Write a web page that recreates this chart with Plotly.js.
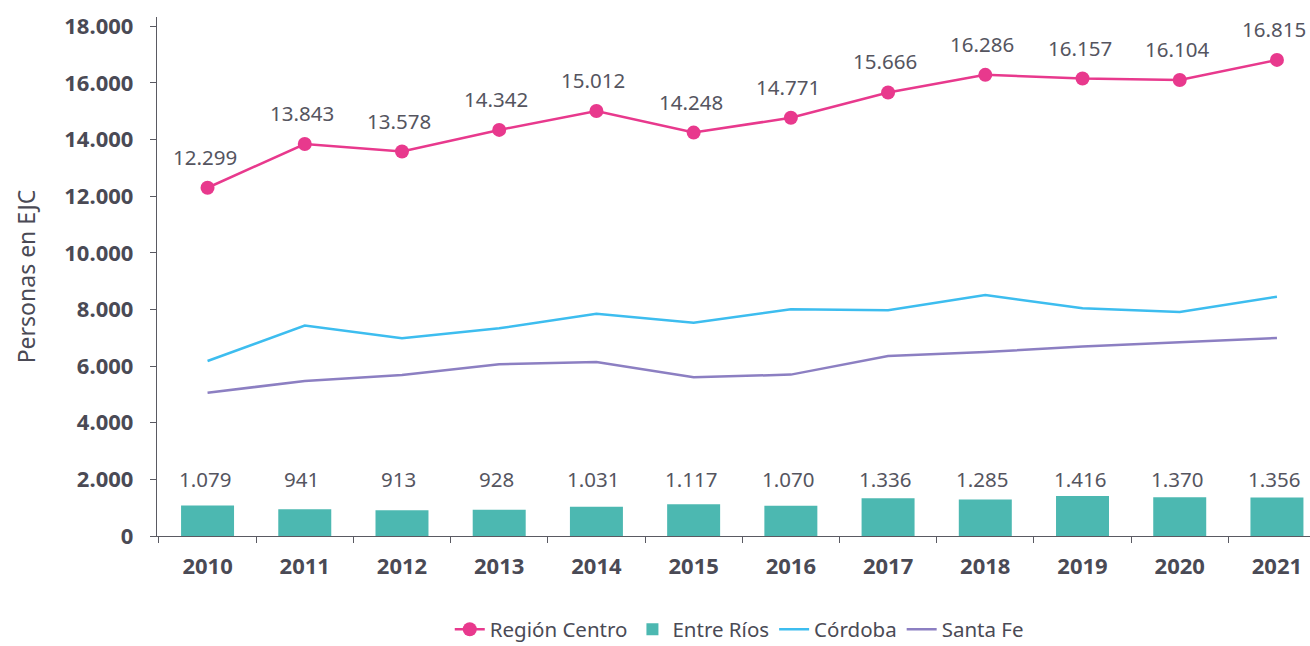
<!DOCTYPE html>
<html>
<head>
<meta charset="utf-8">
<script src="https://cdn.plot.ly/plotly-3.0.1.min.js"></script>
<style>html,body{margin:0;padding:0;background:#fff;}#chart{width:1310px;height:646px;}</style>
</head>
<body>
<div id="chart"></div>
<script>
var years = ['2010','2011','2012','2013','2014','2015','2016','2017','2018','2019','2020','2021'];
var regionCentro = [12299, 13843, 13578, 14342, 15012, 14248, 14771, 15666, 16286, 16157, 16104, 16815];
var entreRios = [1079, 941, 913, 928, 1031, 1117, 1070, 1336, 1285, 1416, 1370, 1356];
var cordoba = [6180, 7430, 6985, 7335, 7850, 7535, 8010, 7975, 8510, 8045, 7910, 8450];
var santaFe = [5060, 5475, 5685, 6065, 6145, 5605, 5700, 6355, 6500, 6690, 6840, 6995];
var barLabelLevel = 2000;

function fmt(n){ return String(n).replace(/\B(?=(\d{3})+(?!\d))/g, '.'); }

var textColor = '#4a4a55';
var labelColor = '#55555f';
var font = 'Noto Sans, Open Sans, sans-serif';

var traces = [
  {type:'bar', name:'Entre Ríos', x:years, y:entreRios, marker:{color:'#4cb8b1'}, legendrank:2},
  {type:'scatter', mode:'lines', name:'Córdoba', x:years, y:cordoba, line:{color:'#3dbdef', width:2.5}, legendrank:3},
  {type:'scatter', mode:'lines', name:'Santa Fe', x:years, y:santaFe, line:{color:'#8c7fc2', width:2.5}, legendrank:4},
  {type:'scatter', mode:'lines+markers', name:'Región Centro', x:years, y:regionCentro, line:{color:'#e8398d', width:2.5}, marker:{color:'#e8398d', size:14}, legendrank:1}
];

var annotations = [];
years.forEach(function(yr, i){
  annotations.push({xref:'x', yref:'y', x:i, y:regionCentro[i], text:fmt(regionCentro[i]), showarrow:false, yshift:31, xshift:-3, font:{family:font, size:20.5, color:labelColor}});
  annotations.push({xref:'x', yref:'y', x:i, y:barLabelLevel, text:fmt(entreRios[i]), showarrow:false, yshift:0, xshift:-3, font:{family:font, size:20.5, color:labelColor}});
});

var layout = {
  width:1310, height:646,
  margin:{l:157, r:0, t:17, b:110, autoexpand:false},
  paper_bgcolor:'#fff', plot_bgcolor:'#fff',
  separators:',.',
  font:{family:font, color:textColor},
  bargap:0.455,
  showlegend:true,
  legend:{orientation:'h', x:0.505, xanchor:'center', y:-0.18, yanchor:'middle', font:{size:20.5, color:textColor}, traceorder:'normal'},
  xaxis:{
    type:'category', range:[-0.52, 11.34], showgrid:false, showline:true, linecolor:'#5a5a62', linewidth:1.2,
    ticks:'outside', tickson:'boundaries', ticklen:6, tickcolor:'#5a5a62', ticklabelstandoff:10,
    tickfont:{family:font, size:22, color:textColor, weight:'bold'}, automargin:false
  },
  yaxis:{
    range:[0, 18330], tickvals:[0,2000,4000,6000,8000,10000,12000,14000,16000,18000], tickformat:',d',
    showgrid:false, showline:true, linecolor:'#5a5a62', linewidth:1.2, zeroline:false,
    ticks:'outside', ticklen:6, tickcolor:'#5a5a62', ticklabelstandoff:12, automargin:false,
    tickfont:{family:font, size:22, color:textColor, weight:'bold'},
    title:{text:'Personas en EJC', font:{family:font, size:23, color:textColor}, standoff:22}
  },
  annotations:annotations
};

Plotly.newPlot('chart', traces, layout, {displayModeBar:false, staticPlot:true});
</script>
</body>
</html>
